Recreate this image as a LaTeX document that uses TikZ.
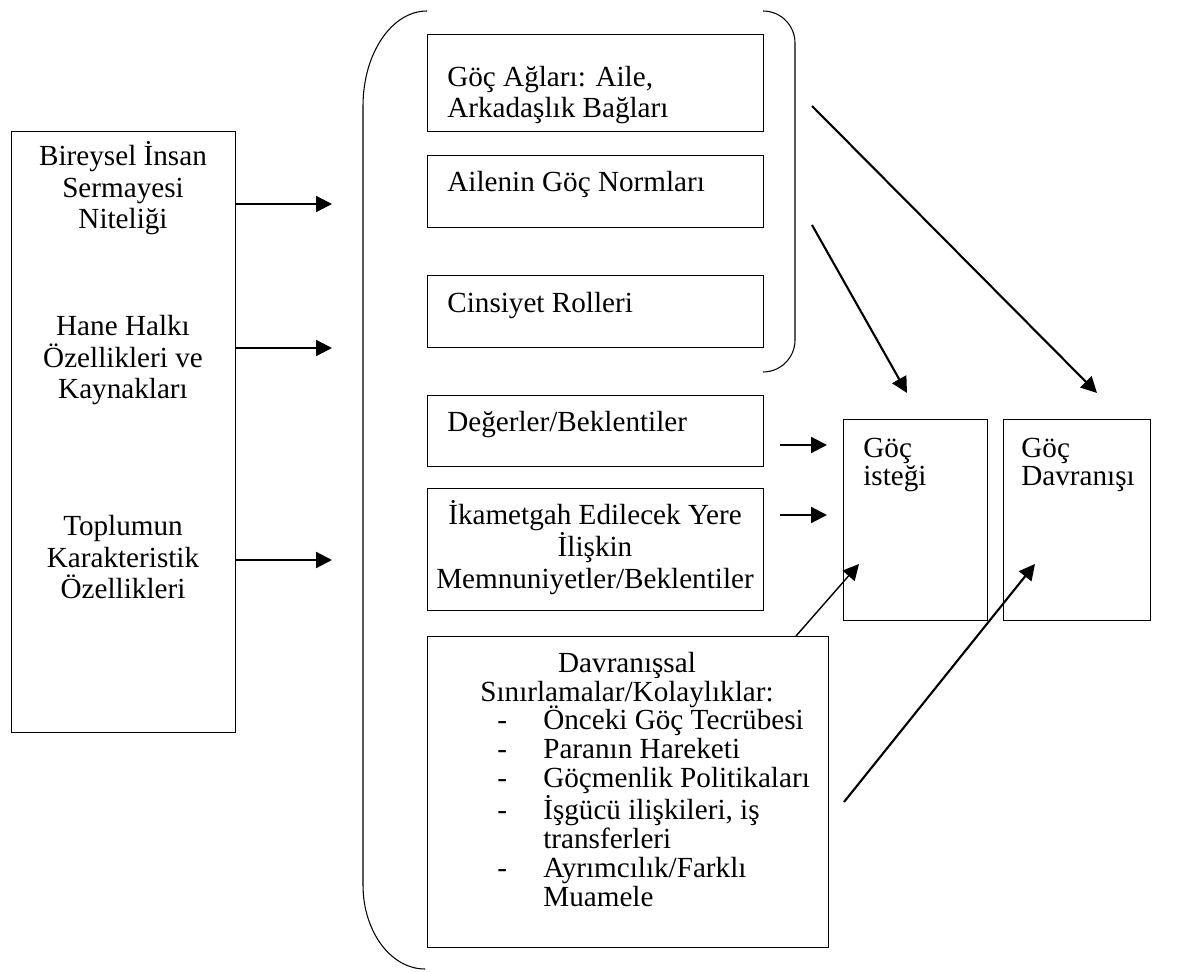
\documentclass[tikz,border=0pt]{standalone}
\usepackage{fontspec}
\setmainfont{Liberation Serif}
\usetikzlibrary{arrows.meta,calc}
\begin{document}
\begin{tikzpicture}[x=0.02cm,y=0.02cm,
  box/.style={draw, line width=0.6pt, inner sep=0pt, anchor=north west},
  txt/.style={inner sep=0pt, font=\fontsize{16.6}{18.1}\selectfont},
  txtb/.style={inner sep=0pt, font=\fontsize{16.6}{16.5}\selectfont},
  arr/.style={line width=1.2pt, -{Triangle[length=9pt,width=9pt]}},
  thinarr/.style={line width=0.8pt, -{Triangle[length=9pt,width=9pt]}},
  brk/.style={line width=0.6pt}]
\useasboundingbox (0,0) rectangle (1186,-972);

% boxes
\node[box, minimum width=4.48cm, minimum height=12.02cm] (L) at (11,-131) {};
\node[box, minimum width=6.72cm, minimum height=1.94cm] (b1) at (427,-34) {};
\node[box, minimum width=6.72cm, minimum height=1.44cm] (b2) at (427,-155) {};
\node[box, minimum width=6.72cm, minimum height=1.44cm] (b3) at (427,-275) {};
\node[box, minimum width=6.72cm, minimum height=1.42cm] (b4) at (427,-395) {};
\node[box, minimum width=6.72cm, minimum height=2.44cm] (b5) at (427,-488) {};
\node[box, minimum width=8.02cm, minimum height=6.22cm] (b6) at (427,-636) {};
\node[box, minimum width=2.88cm, minimum height=4.02cm] (g1) at (843,-419) {};
\node[box, minimum width=2.94cm, minimum height=4.02cm] (g2) at (1003,-419) {};

% left texts (anchor base = baseline of last line)
\node[txt, anchor=base, align=center] (t1) at (123,-229) {Bireysel İnsan\\Sermayesi\\Niteliği};
\node[txt, anchor=base, align=center] (t2) at (123,-399) {Hane Halkı\\Özellikleri ve\\Kaynakları};
\node[txt, anchor=base, align=center] (t3) at (123,-599) {Toplumun\\Karakteristik\\Özellikleri};

% middle texts
\node[txt, anchor=base west, align=left] (tb1) at (447,-118) {Göç Ağları: Aile,\\Arkadaşlık Bağları};
\node[txt, anchor=base west] (tb2) at (447,-192) {Ailenin Göç Normları};
\node[txt, anchor=base west] (tb3) at (447,-313) {Cinsiyet Rolleri};
\node[txt, anchor=base west] (tb4) at (447,-432) {Değerler/Beklentiler};
\node[txt, anchor=base, align=center] (tb5) at (595,-588) {İkametgah Edilecek Yere\\İlişkin\\Memnuniyetler/Beklentiler};
\node[txtb, anchor=base, align=center] (tb6) at (627,-701) {Davranışsal\\Sınırlamalar/Kolaylıklar:};
\node[txtb, anchor=base west, align=left] (tb6l) at (497,-906) {%
\makebox[0.92cm][l]{-}Önceki Göç Tecrübesi\\
\makebox[0.92cm][l]{-}Paranın Hareketi\\
\makebox[0.92cm][l]{-}Göçmenlik Politikaları\\
\makebox[0.92cm][l]{-}İşgücü ilişkileri, iş\\
\hspace*{0.92cm}transferleri\\
\makebox[0.92cm][l]{-}Ayrımcılık/Farklı\\
\hspace*{0.92cm}Muamele};

% right texts
\node[txtb, anchor=base west, align=left] (tg1) at (863,-486) {Göç\\isteği};
\node[txtb, anchor=base west, align=left] (tg2) at (1021,-486) {Göç\\Davranışı};

% brackets
\draw[brk] (427,-11) arc[start angle=90, end angle=180, x radius=64, y radius=95]
  -- (363,-885) arc[start angle=180, end angle=270, x radius=62, y radius=84];
\draw[brk] (763,-11) arc[start angle=90, end angle=0, radius=32]
  -- (795,-340) arc[start angle=0, end angle=-90, radius=32];

% arrow endpoints
\coordinate (e1) at (332,-204);
\coordinate (e2) at (332,-348);
\coordinate (e3) at (332,-560);
\coordinate (s4) at (812,-106);
\coordinate (e4) at (1097,-393);
\coordinate (s5) at (812,-225);
\coordinate (e5) at (907,-393);
\coordinate (s6) at (780,-445);
\coordinate (e6) at (827,-445);
\coordinate (s7) at (780,-515);
\coordinate (e7) at (827,-515);
\coordinate (s8) at (796,-636);
\coordinate (e8) at (859,-564);
\coordinate (s9) at (844,-802);
\coordinate (e9) at (1035,-564);

\draw[arr] (L.east |- e1) -- (e1);
\draw[arr] (L.east |- e2) -- (e2);
\draw[arr] (L.east |- e3) -- (e3);
\draw[arr] (s4) -- (e4);
\draw[arr] (s5) -- (e5);
\draw[arr] (s6) -- (e6);
\draw[arr] (s7) -- (e7);
\draw[thinarr] (s8) -- (e8);
\draw[arr] (s9) -- (e9);
\end{tikzpicture}
\end{document}
